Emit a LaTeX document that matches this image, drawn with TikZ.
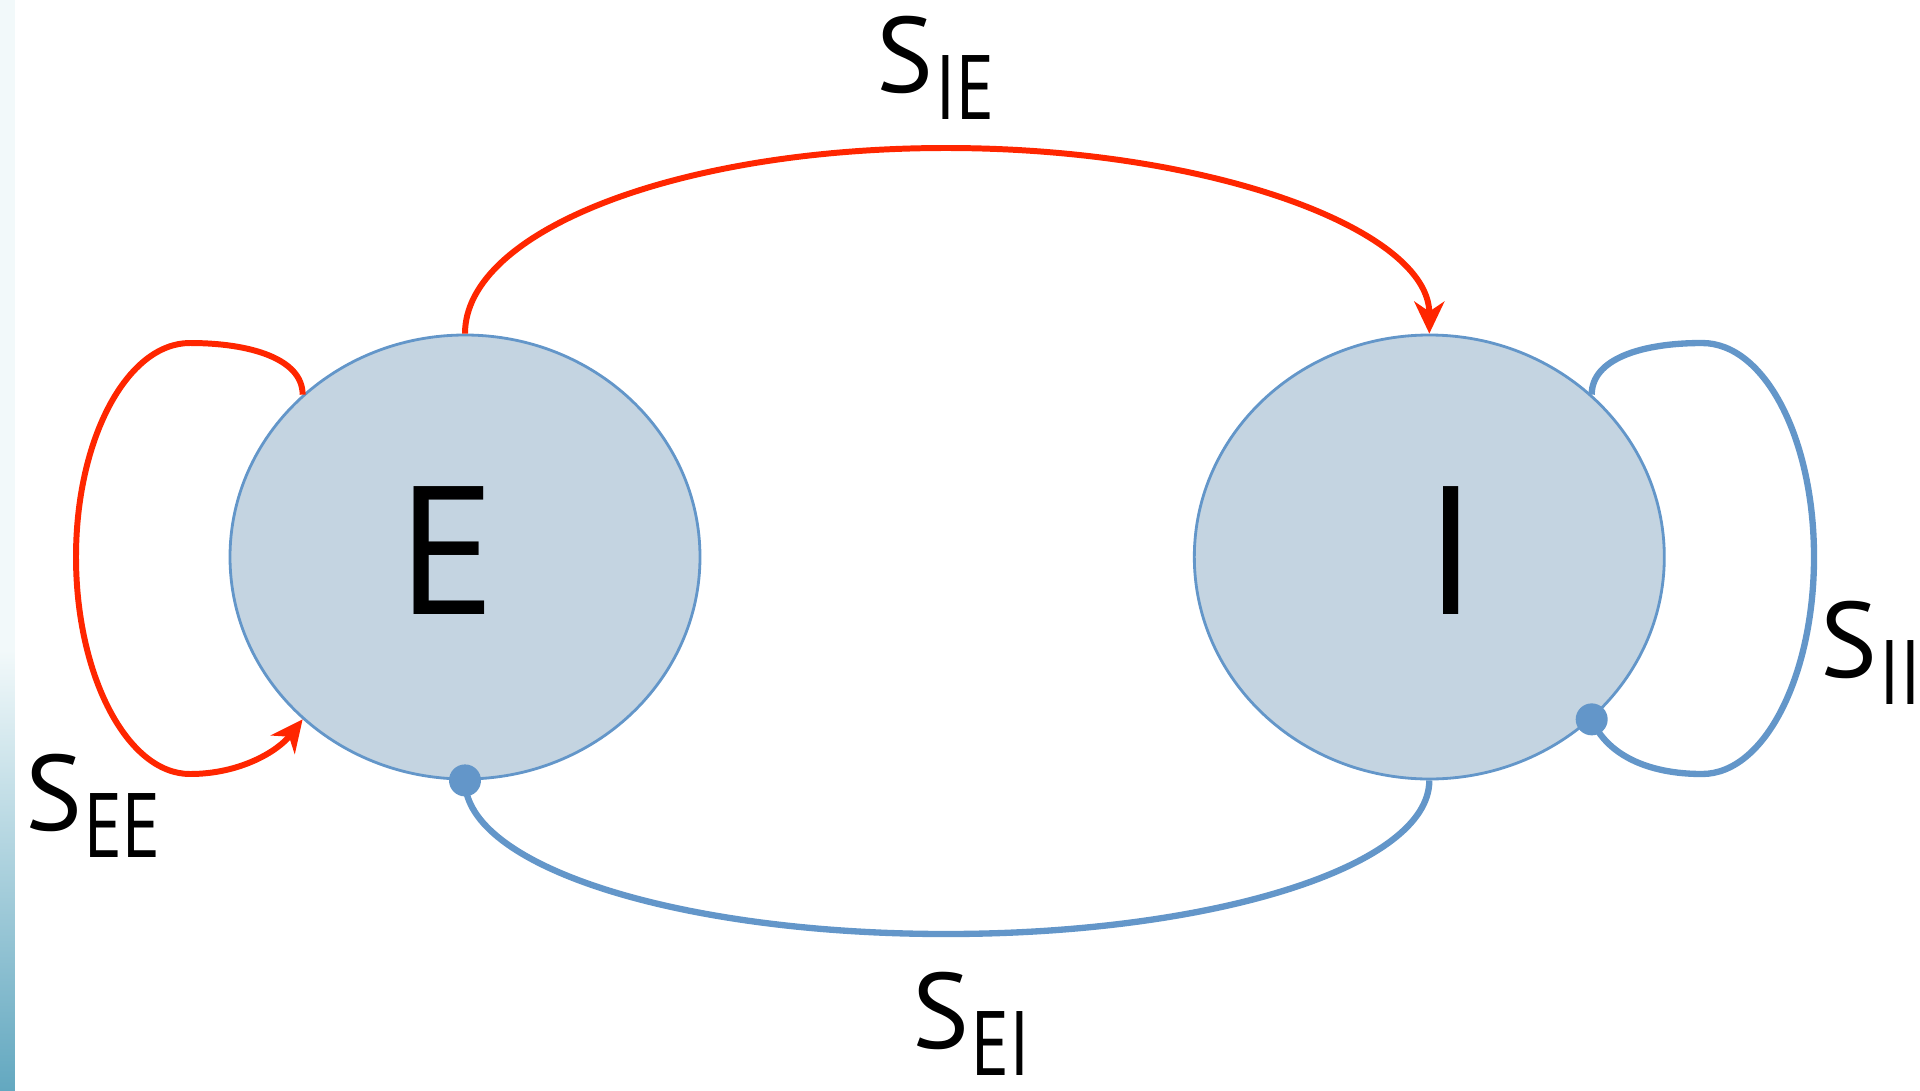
\documentclass[tikz,border=0pt]{standalone}
\usepackage{fontspec}
\setmainfont{PT Sans}
\usepackage{xcolor}
\usepackage{tikz}
\usetikzlibrary{shapes.geometric, arrows.meta, positioning}

\definecolor{excred}{RGB}{255,38,0}
\definecolor{inhblue}{RGB}{99,150,201}
\definecolor{popfill}{RGB}{196,212,225}
\definecolor{striptop}{RGB}{242,249,250}
\definecolor{stripbot}{RGB}{99,168,192}

\newcommand{\synlabel}[1]{S\kern0.02em\raisebox{-0.27cm}{\scalebox{0.78}[1]{\fontsize{26pt}{26pt}\selectfont #1}}}

\begin{document}
\begin{tikzpicture}[
    pop/.style={ellipse, draw=inhblue, line width=0.8pt, fill=popfill,
      minimum width=4.7cm, minimum height=4.44cm, inner sep=0pt},
    popname/.style={font=\fontsize{52pt}{52pt}\selectfont, inner sep=0pt},
    syn/.style={font=\fontsize{30.5pt}{32pt}\selectfont, inner sep=0pt, anchor=base west},
    exc/.style={excred, line width=1.7pt, -{Stealth[length=0.32cm, width=0.3cm, inset=0.1cm]}},
    inh/.style={inhblue, line width=1.8pt},
    dot/.style={circle, fill=inhblue, inner sep=0pt, minimum size=0.32cm}
  ]
            % frame
            \useasboundingbox (0,0) rectangle (19.2,10.9);
            \fill[striptop] (0,4.4) rectangle (0.15,10.9);
            \shade[top color=striptop, bottom color=stripbot] (0,0) rectangle (0.15,4.4);

            % populations
            \node[pop] (E) at (4.65,5.33) {};
            \node[pop, right=4.915cm of E] (I) {};
            \node[popname] (Ename) at ([xshift=-0.18cm, yshift=0.06cm]E.center) {E};
            \node[popname] (Iname) at ([xshift=0.22cm, yshift=0.06cm]I.center) {I};

            % turning points of the arcs and loops
            \coordinate (ietop) at (9.46,9.42);
            \coordinate (eibot) at (9.46,1.56);
            \coordinate (eetop) at (1.90,7.47);
            \coordinate (eeleft) at (0.76,5.33);
            \coordinate (eebot) at (1.90,3.16);
            \coordinate (iitop) at (17.02,7.47);
            \coordinate (iiright) at (18.14,5.33);
            \coordinate (iibot) at (17.02,3.16);

            % E -> I (excitatory)
            \draw[exc] (E.north) .. controls +(0,1.03) and +(-2.67,0) .. (ietop)
              .. controls +(2.67,0) and +(0,1.03) .. (I.north);

            % I -| E (inhibitory)
            \draw[inh] (E.south) .. controls +(0,-0.86) and +(-2.67,0) .. (eibot)
              .. controls +(2.67,0) and +(0,-0.86) .. (I.south);
            \node[dot] (eidot) at (E.south) {};

            % E -> E
            \draw[exc] (E.135) .. controls +(0,0.36) and +(0.6,0) .. (eetop)
              .. controls +(-0.63,0) and +(0,1.18) .. (eeleft)
              .. controls +(0,-1.18) and +(-0.63,0) .. (eebot)
              .. controls +(0.5,0) and +(-0.25,-0.32) .. (E.225);

            % I -| I
            \draw[inh] (I.45) .. controls +(0,0.36) and +(-0.6,0) .. (iitop)
              .. controls +(0.63,0) and +(0,1.18) .. (iiright)
              .. controls +(0,-1.18) and +(0.63,0) .. (iibot)
              .. controls +(-0.55,0) and +(0.15,-0.35) .. (I.-45);
            \node[dot] (iidot) at (I.-45) {};

            % synapse labels
            \node[syn] (sie) at (8.755,9.98) {\synlabel{IE}};
            \node[syn] (see) at (0.245,2.60) {\synlabel{EE}};
            \node[syn] (sii) at (18.2,4.13) {\synlabel{II}};
            \node[syn] (sei) at (9.12,0.42) {\synlabel{EI}};
\end{tikzpicture}
\end{document}
